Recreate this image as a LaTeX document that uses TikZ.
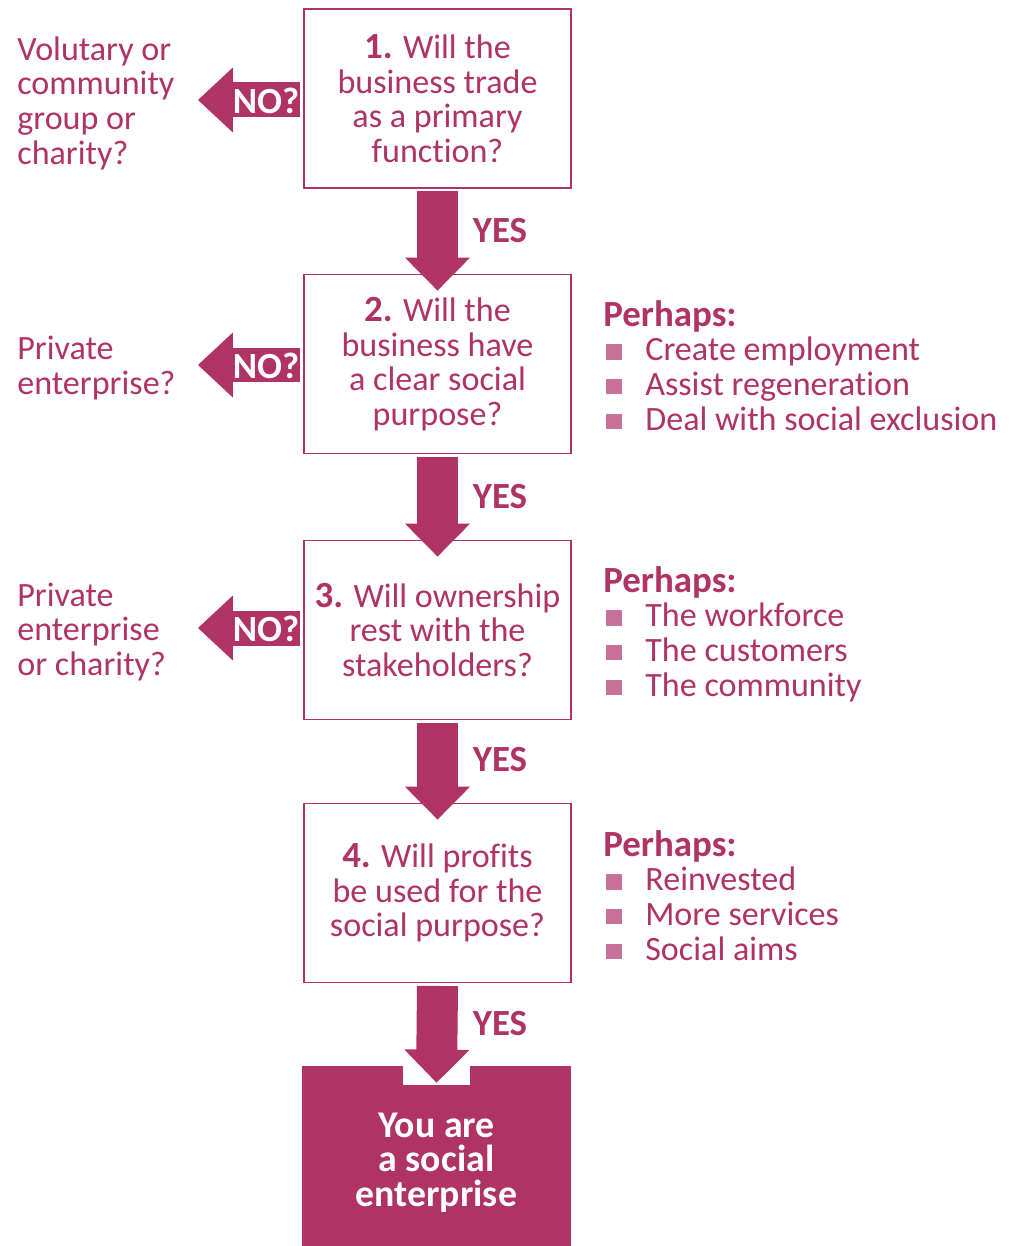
\documentclass[tikz,border=0pt]{standalone}
\usepackage{fontspec}
\setmainfont[Ligatures=NoCommon]{Carlito}
\usetikzlibrary{arrows.meta,positioning}
\definecolor{plum}{HTML}{B03366}
\definecolor{plumlight}{HTML}{C8709A}

% small square bullet for the side lists
\newcommand{\sqbullet}{\makebox[0.84cm][l]{\hspace{0.06cm}\textcolor{plumlight}{\rule[0.02cm]{0.31cm}{0.31cm}}}}
% slightly larger bold lead-in words
\newcommand{\leadin}[1]{{\fontsize{21}{19.7}\selectfont\bfseries #1}}

\tikzset{
  question/.style={draw=plum,line width=1.1pt,fill=white,text=plum,
    minimum width=5.34cm,minimum height=3.58cm,align=center,
    font=\fontsize{19.4}{19.7}\selectfont,inner sep=2pt},
  outcome/.style={fill=plum,minimum width=5.38cm,minimum height=3.6cm},
  outcometext/.style={text=white,align=center,yshift=-0.13cm,
    font=\fontsize{21.5}{19.7}\selectfont\bfseries},
  sidetext/.style={text=plum,align=left,anchor=west,inner sep=0pt,
    font=\fontsize{19.4}{19.7}\selectfont},
  perhaps/.style={text=plum,align=left,anchor=north west,inner sep=0pt,
    font=\fontsize{19.4}{19.7}\selectfont},
  yesarrow/.style={plum,line width=0.82cm,
    -{Triangle[length=0.66cm,width=1.3cm,line width=0.8pt]}},
  noarrow/.style={plum,line width=0.7cm,
    -{Triangle[length=0.7cm,width=1.3cm,line width=0.8pt]}},
  yes/.style={text=plum,font=\fontsize{21}{20}\selectfont\bfseries},
  notag/.style={text=white,font=\fontsize{21}{20}\selectfont\bfseries,inner sep=0pt}
}

\begin{document}
\begin{tikzpicture}[x=0.02cm,y=-0.02cm]
  \useasboundingbox (0,0) rectangle (1009,1246);

  % the four questions
  \node[question] (q1) at (437.5,98.5) {\leadin{1.} Will the\\business trade\\as a primary\\function?};
  \node[question] (q2) at (437.5,364)  {\leadin{2.} Will the\\business have\\a clear social\\purpose?};
  \node[question] (q3) at (437.5,630)  {\leadin{3.} Will ownership\\rest with the\\stakeholders?};
  \node[question] (q4) at (437.5,893)  {\leadin{4.} Will profits\\be used for the\\social purpose?};

  % the outcome, with a white notch for the last arrow
  \node[outcome] (fin) at (436.5,1156) {};
  \node[outcometext] (fintext) at (fin.center) {You are\\a social\\enterprise};
  \fill[white] (403,1066) rectangle (470,1085);

  % yes arrows down the middle
  \draw[yesarrow] ([yshift=-0.05cm]q1.south) -- ([yshift=-0.34cm]q2.north);
  \draw[yesarrow] ([yshift=-0.05cm]q2.south) -- ([yshift=-0.34cm]q3.north);
  \draw[yesarrow] ([yshift=-0.05cm]q3.south) -- ([yshift=-0.34cm]q4.north);
  \draw[yesarrow] ([yshift=-0.05cm]q4.south) -- ([yshift=-0.34cm]fin.north);
  \node[yes] (y1) at (500,231)  {YES};
  \node[yes] (y2) at (500,497)  {YES};
  \node[yes] (y3) at (500,760)  {YES};
  \node[yes] (y4) at (500,1024) {YES};

  % no arrows out to the left
  \coordinate (n1) at (198,100);
  \coordinate (n2) at (198,365);
  \coordinate (n3) at (198,628);
  \draw[noarrow] ([xshift=-0.06cm]q1.west |- n1) -- (n1);
  \draw[noarrow] ([xshift=-0.06cm]q2.west |- n2) -- (n2);
  \draw[noarrow] ([xshift=-0.06cm]q3.west |- n3) -- (n3);
  \node[notag] (t1) at (266,101) {NO?};
  \node[notag] (t2) at (266,366) {NO?};
  \node[notag] (t3) at (266,629) {NO?};

  % what it is otherwise
  \node[sidetext] (o1) at (17,103) {Volutary or\\community\\group or\\charity?};
  \node[sidetext] (o2) at (17,368) {Private\\enterprise?};
  \node[sidetext] (o3) at (17,632) {Private\\enterprise\\or charity?};

  % the hints on the right
  \node[perhaps] (p2) at (603,300) {\leadin{Perhaps:}\\\sqbullet Create employment\\\sqbullet Assist regeneration\\\sqbullet Deal with social exclusion};
  \node[perhaps] (p3) at (603,566) {\leadin{Perhaps:}\\\sqbullet The workforce\\\sqbullet The customers\\\sqbullet The community};
  \node[perhaps] (p4) at (603,830) {\leadin{Perhaps:}\\\sqbullet Reinvested\\\sqbullet More services\\\sqbullet Social aims};
\end{tikzpicture}
\end{document}
